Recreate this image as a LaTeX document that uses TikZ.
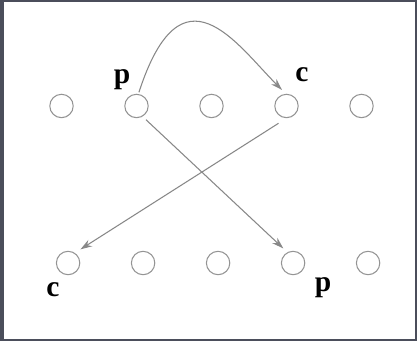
\documentclass[tikz,border=0pt]{standalone}
\usepackage{fontspec}
\setmainfont{Liberation Serif}
\usetikzlibrary{arrows.meta}
\definecolor{frame}{HTML}{4B4E5B}
\definecolor{linegray}{HTML}{888888}
\tikzset{
  spot/.style={circle, draw=linegray!90, line width=1pt, minimum size=0.78cm, inner sep=0pt},
  lbl/.style={font=\fontsize{28}{30}\selectfont\bfseries, inner sep=0pt},
  link/.style={draw=linegray, line width=1pt, -{Stealth[length=11pt,width=7pt]}}
}
\begin{document}
\begin{tikzpicture}
    \useasboundingbox (0,0) rectangle (13.9,-11.367);
    % marco oscuro y fondo blanco
    \fill[frame] (0,0) rectangle (13.9,-11.367);
    \fill[white] (0.133,-0.067) rectangle (13.833,-11.3);
    % fila de arriba y fila de abajo
    \foreach \i in {1,...,5} {
        \node[spot] (t\i) at ({2.05+2.5*(\i-1)},-3.533) {};
        \node[spot] (b\i) at ({2.27+2.5*(\i-1)},-8.767) {};
    }
    % etiquetas
    \node[lbl] (p1) at (4.067,-2.65) {p};
    \node[lbl] (c1) at (10.067,-2.5) {c};
    \node[lbl] (c2) at (1.767,-9.667) {c};
    \node[lbl] (p2) at (10.767,-9.6) {p};
    % flechas
    \draw[link, shorten <=1.6pt, shorten >=5.2pt] (t2.81) .. controls +(72:4.67) and +(135:2.33) .. (t4.93);
    \draw[link, shorten <=4.4pt, shorten >=5.3pt] (t2.-60) -- (b4.118);
    \draw[link, shorten <=9pt, shorten >=6.2pt] (t4.-90) -- (b1.56);
\end{tikzpicture}
\end{document}
